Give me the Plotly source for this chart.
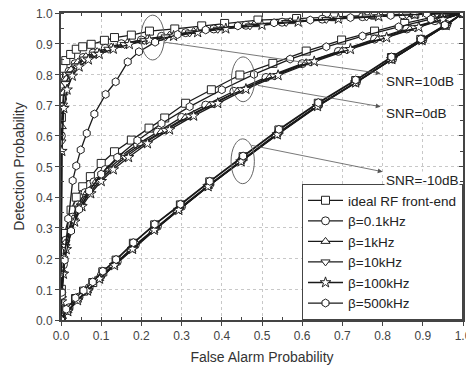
import plotly.graph_objects as go

# ---------------- data ----------------
series_names = ["ideal RF front-end", "β=0.1kHz", "β=1kHz", "β=10kHz", "β=100kHz", "β=500kHz"]
series_symbols = ["square", "circle", "triangle-up", "triangle-down", "star", "hexagon"]

# SNR = 10 dB
ideal_10_x = [0, 0.001, 0.003, 0.005, 0.012, 0.024, 0.038, 0.054, 0.075, 0.108, 0.133, 0.175, 0.22, 0.283, 0.35, 0.407, 0.49, 0.586, 0.68, 0.78, 0.88, 0.95, 1.0]
ideal_10_y = [0, 0.66, 0.76, 0.82, 0.845, 0.865, 0.882, 0.89, 0.898, 0.911, 0.92, 0.928, 0.941, 0.948, 0.958, 0.966, 0.977, 0.982, 0.988, 0.993, 0.997, 0.999, 1.0]
b01_10_x = [0, 0.001, 0.004, 0.01, 0.02, 0.035, 0.055, 0.08, 0.11, 0.15, 0.2, 0.25, 0.31, 0.38, 0.46, 0.55, 0.65, 0.75, 0.85, 0.93, 1.0]
b01_10_y = [0, 0.6, 0.72, 0.78, 0.81, 0.835, 0.855, 0.87, 0.885, 0.9, 0.912, 0.924, 0.936, 0.948, 0.96, 0.97, 0.98, 0.988, 0.994, 0.998, 1.0]
b1_10_x = [0, 0.002, 0.006, 0.013, 0.025, 0.042, 0.062, 0.09, 0.125, 0.165, 0.215, 0.27, 0.33, 0.4, 0.48, 0.57, 0.67, 0.77, 0.87, 0.94, 1.0]
b1_10_y = [0, 0.63, 0.74, 0.785, 0.815, 0.84, 0.858, 0.874, 0.889, 0.903, 0.916, 0.928, 0.94, 0.951, 0.962, 0.972, 0.982, 0.989, 0.995, 0.998, 1.0]
b10_10_x = [0, 0.001, 0.005, 0.011, 0.022, 0.038, 0.058, 0.085, 0.118, 0.158, 0.207, 0.26, 0.32, 0.39, 0.47, 0.56, 0.66, 0.76, 0.86, 0.935, 1.0]
b10_10_y = [0, 0.58, 0.7, 0.77, 0.8, 0.828, 0.85, 0.866, 0.882, 0.897, 0.91, 0.922, 0.935, 0.947, 0.958, 0.969, 0.979, 0.987, 0.994, 0.998, 1.0]
b100_10_x = [0, 0.002, 0.007, 0.015, 0.028, 0.045, 0.068, 0.095, 0.13, 0.17, 0.22, 0.28, 0.34, 0.41, 0.5, 0.59, 0.69, 0.79, 0.88, 0.95, 1.0]
b100_10_y = [0, 0.55, 0.69, 0.75, 0.795, 0.825, 0.848, 0.866, 0.883, 0.898, 0.912, 0.925, 0.937, 0.949, 0.961, 0.971, 0.981, 0.989, 0.995, 0.999, 1.0]
b500_10_x = [0, 0.002, 0.008, 0.018, 0.029, 0.038, 0.049, 0.064, 0.083, 0.111, 0.136, 0.166, 0.194, 0.234, 0.29, 0.36, 0.44, 0.53, 0.62, 0.72, 0.82, 0.91, 1.0]
b500_10_y = [0, 0.08, 0.2, 0.33, 0.454, 0.502, 0.554, 0.608, 0.671, 0.735, 0.776, 0.841, 0.874, 0.905, 0.93, 0.945, 0.958, 0.968, 0.977, 0.985, 0.992, 0.997, 1.0]

# SNR = 0 dB
ideal_0_x = [0, 0.001, 0.005, 0.009, 0.025, 0.038, 0.054, 0.073, 0.1, 0.133, 0.175, 0.219, 0.258, 0.31, 0.374, 0.445, 0.527, 0.61, 0.698, 0.78, 0.855, 0.93, 1.0]
ideal_0_y = [0, 0.1, 0.195, 0.282, 0.358, 0.4, 0.434, 0.467, 0.51, 0.548, 0.586, 0.625, 0.658, 0.706, 0.75, 0.798, 0.836, 0.876, 0.912, 0.941, 0.966, 0.988, 1.0]
b01_0_x = [0, 0.002, 0.006, 0.012, 0.028, 0.042, 0.06, 0.082, 0.11, 0.145, 0.19, 0.24, 0.3, 0.36, 0.43, 0.51, 0.6, 0.69, 0.78, 0.86, 0.93, 1.0]
b01_0_y = [0, 0.09, 0.18, 0.26, 0.335, 0.375, 0.415, 0.45, 0.49, 0.53, 0.572, 0.612, 0.66, 0.7, 0.745, 0.79, 0.835, 0.875, 0.915, 0.948, 0.975, 1.0]
b1_0_x = [0, 0.001, 0.004, 0.01, 0.03, 0.046, 0.065, 0.088, 0.118, 0.155, 0.2, 0.25, 0.31, 0.37, 0.44, 0.52, 0.61, 0.7, 0.79, 0.87, 0.94, 1.0]
b1_0_y = [0, 0.08, 0.16, 0.25, 0.33, 0.375, 0.415, 0.452, 0.492, 0.533, 0.574, 0.614, 0.66, 0.7, 0.746, 0.792, 0.838, 0.878, 0.917, 0.95, 0.977, 1.0]
b10_0_x = [0, 0.002, 0.005, 0.011, 0.032, 0.05, 0.07, 0.095, 0.125, 0.16, 0.21, 0.26, 0.32, 0.38, 0.45, 0.53, 0.62, 0.71, 0.8, 0.88, 0.945, 1.0]
b10_0_y = [0, 0.07, 0.15, 0.24, 0.325, 0.372, 0.413, 0.452, 0.492, 0.53, 0.578, 0.618, 0.664, 0.704, 0.75, 0.795, 0.84, 0.88, 0.918, 0.952, 0.978, 1.0]
b100_0_x = [0, 0.001, 0.006, 0.013, 0.034, 0.052, 0.074, 0.1, 0.13, 0.168, 0.215, 0.27, 0.33, 0.39, 0.46, 0.54, 0.63, 0.72, 0.81, 0.89, 0.95, 1.0]
b100_0_y = [0, 0.06, 0.15, 0.23, 0.32, 0.37, 0.412, 0.452, 0.49, 0.53, 0.575, 0.62, 0.665, 0.706, 0.752, 0.797, 0.842, 0.882, 0.92, 0.954, 0.979, 1.0]
b500_0_x = [0, 0.002, 0.009, 0.025, 0.045, 0.07, 0.1, 0.14, 0.19, 0.25, 0.32, 0.4, 0.48, 0.57, 0.66, 0.75, 0.84, 0.92, 1.0]
b500_0_y = [0, 0.09, 0.195, 0.29, 0.36, 0.42, 0.475, 0.53, 0.585, 0.64, 0.695, 0.75, 0.8, 0.85, 0.89, 0.925, 0.955, 0.98, 1.0]

# SNR = -10 dB
ideal_m10_x = [0, 0.013, 0.036, 0.056, 0.079, 0.104, 0.137, 0.18, 0.233, 0.297, 0.37, 0.453, 0.542, 0.64, 0.733, 0.822, 0.895, 0.955, 1.0]
ideal_m10_y = [0, 0.033, 0.07, 0.094, 0.122, 0.157, 0.195, 0.25, 0.31, 0.375, 0.45, 0.532, 0.619, 0.706, 0.78, 0.855, 0.914, 0.96, 1.0]
b01_m10_x = [0, 0.02, 0.045, 0.07, 0.1, 0.14, 0.185, 0.24, 0.3, 0.37, 0.45, 0.54, 0.64, 0.735, 0.825, 0.9, 0.96, 1.0]
b01_m10_y = [0, 0.04, 0.075, 0.105, 0.145, 0.19, 0.245, 0.305, 0.37, 0.442, 0.522, 0.61, 0.7, 0.775, 0.85, 0.912, 0.962, 1.0]
b1_m10_x = [0, 0.016, 0.04, 0.065, 0.095, 0.13, 0.175, 0.23, 0.29, 0.365, 0.445, 0.535, 0.635, 0.73, 0.82, 0.895, 0.955, 1.0]
b1_m10_y = [0, 0.03, 0.065, 0.095, 0.135, 0.178, 0.23, 0.292, 0.357, 0.435, 0.515, 0.603, 0.695, 0.772, 0.848, 0.91, 0.958, 1.0]
b10_m10_x = [0, 0.018, 0.042, 0.068, 0.098, 0.135, 0.18, 0.235, 0.295, 0.368, 0.45, 0.54, 0.64, 0.735, 0.825, 0.9, 0.96, 1.0]
b10_m10_y = [0, 0.03, 0.066, 0.097, 0.136, 0.18, 0.233, 0.295, 0.36, 0.437, 0.518, 0.605, 0.697, 0.774, 0.85, 0.912, 0.961, 1.0]
b100_m10_x = [0, 0.017, 0.041, 0.066, 0.096, 0.133, 0.178, 0.232, 0.293, 0.366, 0.448, 0.538, 0.638, 0.733, 0.823, 0.898, 0.958, 1.0]
b100_m10_y = [0, 0.028, 0.064, 0.095, 0.134, 0.178, 0.231, 0.293, 0.358, 0.435, 0.516, 0.604, 0.696, 0.773, 0.849, 0.911, 0.96, 1.0]
b500_m10_x = [0, 0.013, 0.036, 0.056, 0.079, 0.104, 0.137, 0.18, 0.233, 0.297, 0.37, 0.453, 0.542, 0.64, 0.733, 0.822, 0.895, 0.955, 1.0]
b500_m10_y = [0, 0.035, 0.072, 0.096, 0.124, 0.159, 0.197, 0.252, 0.312, 0.377, 0.452, 0.534, 0.621, 0.708, 0.782, 0.857, 0.915, 0.961, 1.0]

series_x = [
    (ideal_10_x, ideal_0_x, ideal_m10_x),
    (b01_10_x, b01_0_x, b01_m10_x),
    (b1_10_x, b1_0_x, b1_m10_x),
    (b10_10_x, b10_0_x, b10_m10_x),
    (b100_10_x, b100_0_x, b100_m10_x),
    (b500_10_x, b500_0_x, b500_m10_x),
]
series_y = [
    (ideal_10_y, ideal_0_y, ideal_m10_y),
    (b01_10_y, b01_0_y, b01_m10_y),
    (b1_10_y, b1_0_y, b1_m10_y),
    (b10_10_y, b10_0_y, b10_m10_y),
    (b100_10_y, b100_0_y, b100_m10_y),
    (b500_10_y, b500_0_y, b500_m10_y),
]

x_ticks = [0.0, 0.1, 0.2, 0.3, 0.4, 0.5, 0.6, 0.7, 0.8, 0.9, 1.0]
x_tick_labels = ["0.0", "0.1", "0.2", "0.3", "0.4", "0.5", "0.6", "0.7", "0.8", "0.9", "1.0"]
y_ticks = x_ticks
y_tick_labels = x_tick_labels

snr_labels = ["SNR=10dB", "SNR=0dB", "SNR=-10dB"]
ellipse_centers = [(0.228, 0.92), (0.453, 0.784), (0.452, 0.517)]
arrow_tails = [(0.252, 0.906), (0.486, 0.765), (0.47, 0.57)]
arrow_heads = [(0.795, 0.803), (0.795, 0.695), (0.80, 0.483)]
label_pos = [(0.803, 0.776), (0.803, 0.673), (0.803, 0.456)]

# ---------------- figure ----------------
FONT = "Liberation Sans, Arial, sans-serif"
fig = go.Figure()

for name, sym, xs, ys in zip(series_names, series_symbols, series_x, series_y):
    X, Y = [], []
    for gx, gy in zip(xs, ys):
        if X:
            X.append(None)
            Y.append(None)
        X.extend(gx)
        Y.extend(gy)
    fig.add_trace(go.Scatter(
        x=X, y=Y, mode="lines+markers", name=name, connectgaps=False,
        line=dict(color="#1a1a1a", width=1.3),
        marker=dict(symbol=sym, size=8, color="white", line=dict(width=1, color="#222")),
    ))

# dummy trace for top/right tick axes
fig.add_trace(go.Scatter(x=[None], y=[None], xaxis="x2", yaxis="y2", showlegend=False, hoverinfo="skip"))

shapes = []
for (cx, cy) in ellipse_centers:
    shapes.append(dict(type="circle", xref="x", yref="y",
                       x0=cx - 0.029, x1=cx + 0.029, y0=cy - 0.073, y1=cy + 0.073,
                       line=dict(color="#666", width=1)))

annotations = []
for (tx, ty), (hx, hy), (lx, ly), lab in zip(arrow_tails, arrow_heads, label_pos, snr_labels):
    annotations.append(dict(x=hx, y=hy, ax=tx, ay=ty, xref="x", yref="y", axref="x", ayref="y",
                            showarrow=True, arrowhead=2, arrowsize=1.2, arrowwidth=0.8,
                            arrowcolor="#555", text=""))
    annotations.append(dict(x=lx, y=ly, xref="x", yref="y", text=lab, showarrow=False,
                            xanchor="left", yanchor="middle",
                            font=dict(family=FONT, size=13.5, color="#222"),
                            bgcolor="rgba(255,255,255,0.9)"))

axis_common = dict(
    range=[0, 1], showline=True, linecolor="#444", linewidth=2, automargin=False,
    showgrid=True, gridcolor="#c8c8c8", griddash="dot", gridwidth=1,
    ticks="outside", ticklen=4, tickcolor="#444", tickwidth=1, ticklabeloverflow="allow",
    minor=dict(ticks="inside", ticklen=3, tickcolor="#444", dtick=0.05, showgrid=False),
    zeroline=False, tickfont=dict(family=FONT, size=12, color="#444"),
)

# the page adds an 8px body margin, so the figure is sized to fit the 474x369 window
fig.update_layout(
    width=466, height=361,
    margin=dict(l=53, r=11, t=5, b=49),
    paper_bgcolor="white", plot_bgcolor="white",
    font=dict(family=FONT, color="#333"),
    xaxis=dict(**axis_common, tickvals=x_ticks, ticktext=x_tick_labels,
               title=dict(text="False Alarm Probability", font=dict(family=FONT, size=14, color="#333"), standoff=10)),
    yaxis=dict(**axis_common, tickvals=y_ticks, ticktext=y_tick_labels, ticklabelshift=1,
               title=dict(text="Detection Probability", font=dict(family=FONT, size=14, color="#333"), standoff=8)),
    xaxis2=dict(overlaying="x", side="top", range=[0, 1], anchor="y2", showticklabels=False, automargin=False,
                tickvals=x_ticks, ticks="inside", ticklen=4, tickcolor="#444", showgrid=False,
                showline=True, linecolor="#444", linewidth=2, zeroline=False,
                minor=dict(ticks="inside", ticklen=3, tickcolor="#444", dtick=0.05)),
    yaxis2=dict(overlaying="y", side="right", range=[0, 1], anchor="x2", showticklabels=False, automargin=False,
                tickvals=y_ticks, ticks="inside", ticklen=4, tickcolor="#444", showgrid=False,
                showline=True, linecolor="#444", linewidth=2, zeroline=False,
                minor=dict(ticks="inside", ticklen=3, tickcolor="#444", dtick=0.05)),
    legend=dict(x=1, y=0, xanchor="right", yanchor="bottom",
                bgcolor="white", bordercolor="#444", borderwidth=1,
                font=dict(family=FONT, size=13.5, color="#222"),
                tracegroupgap=0, itemwidth=35),
    shapes=shapes, annotations=annotations, showlegend=True,
)

fig.write_html("out.html")
